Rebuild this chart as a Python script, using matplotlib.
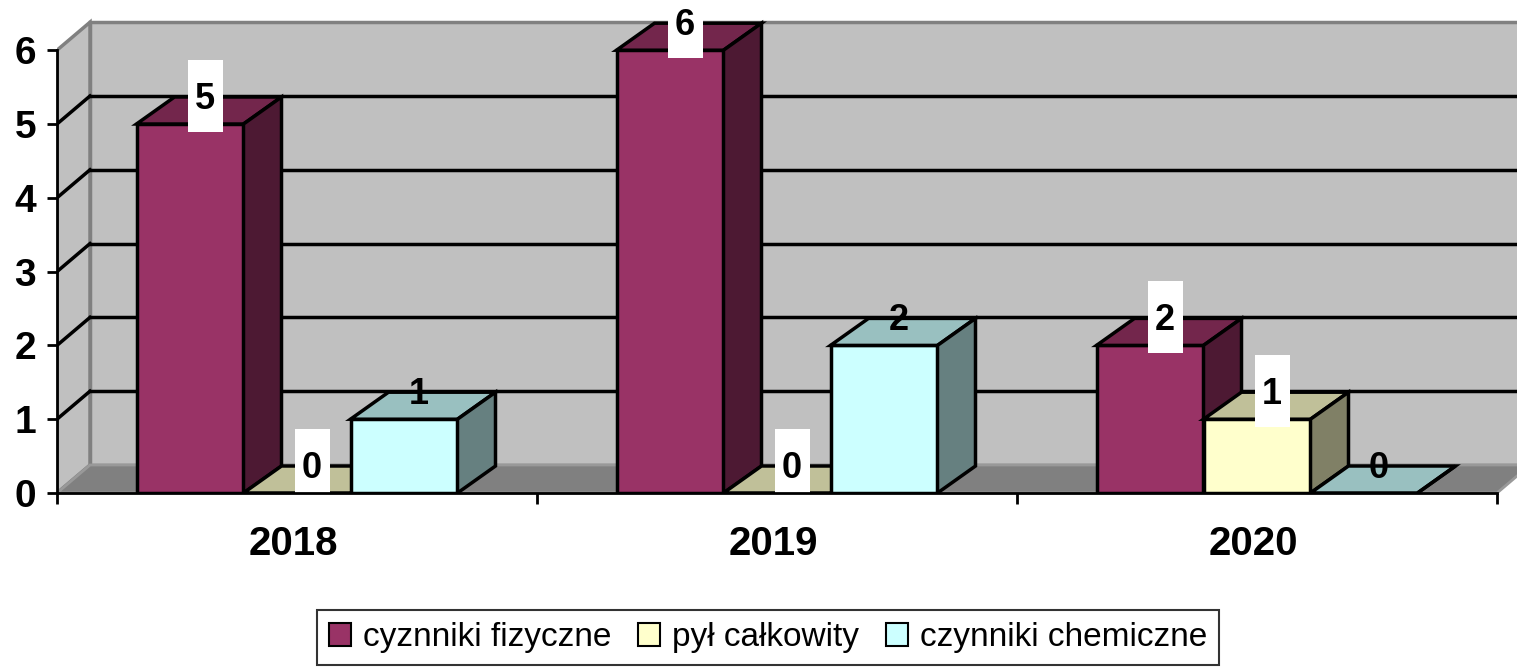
import matplotlib
matplotlib.use("Agg")
import matplotlib.pyplot as plt
from matplotlib.patches import Polygon, Rectangle, Patch

plt.rcParams['font.family'] = ['Liberation Sans', 'DejaVu Sans']

# data
years = ['2018', '2019', '2020']
series_names = ['cyznniki fizyczne', 'pył całkowity', 'czynniki chemiczne']
fizyczne = [5, 6, 2]
pyl = [0, 0, 1]
chemiczne = [1, 2, 0]
y_ticks = [0, 1, 2, 3, 4, 5, 6]

series = [fizyczne, pyl, chemiczne]
# front, top, side colours for each series
front_colors = ['#993366', '#ffffcc', '#ccffff']
top_colors = ['#73264c', '#c0c099', '#99c0c0']
side_colors = ['#4d1933', '#808066', '#668080']
label_box = [True, True, False]

# pixel scales of the reference
px_x = 480.0
px_y = 73.8
wall_dx, wall_dy = 33 / px_x, 28 / px_y
bar_dx, bar_dy = 38 / px_x, 27 / px_y
bar_w = 107 / px_x
ymax = max(y_ticks)
ncat = len(years)

fig = plt.figure(figsize=(15.17, 6.69), dpi=100)
ax = fig.add_axes([57 / 1517, (669 - 493) / 669, 1460 / 1517, 493 / 669])
ax.set_xlim(0, 1460 / px_x)
ax.set_ylim(0, 493 / px_y)

# walls and floor
ax.add_patch(Polygon([(wall_dx, wall_dy), (ncat + wall_dx, wall_dy),
                      (ncat + wall_dx, ymax + wall_dy), (wall_dx, ymax + wall_dy)],
                     fc='#c0c0c0', ec='#808080', lw=2.5, zorder=1))
ax.add_patch(Polygon([(0, 0), (wall_dx, wall_dy), (wall_dx, ymax + wall_dy), (0, ymax)],
                     fc='#c0c0c0', ec='#808080', lw=2.5, zorder=1))
ax.add_patch(Polygon([(0, 0), (ncat, 0), (ncat + wall_dx, wall_dy), (wall_dx, wall_dy)],
                     fc='#808080', ec='#999999', lw=2, zorder=1.5))

for t in y_ticks[1:-1]:
    ax.plot([wall_dx, ncat + wall_dx], [t + wall_dy, t + wall_dy], color='black', lw=2.5, zorder=2)
    ax.plot([0, wall_dx], [t, t + wall_dy], color='black', lw=2.5, zorder=2)

# 3d bars, drawn left to right so the next bar hides the previous side
z = 3.0
for j in range(ncat):
    for i, vals in enumerate(series):
        v = vals[j]
        x = j + 0.5 - 1.5 * bar_w + i * bar_w
        ax.add_patch(Rectangle((x, 0), bar_w, v, fc=front_colors[i], ec='black', lw=2.5, zorder=z))
        ax.add_patch(Polygon([(x, v), (x + bar_w, v), (x + bar_w + bar_dx, v + bar_dy), (x + bar_dx, v + bar_dy)],
                             fc=top_colors[i], ec='black', lw=2.5, zorder=z))
        ax.add_patch(Polygon([(x + bar_w, 0), (x + bar_w + bar_dx, bar_dy),
                              (x + bar_w + bar_dx, v + bar_dy), (x + bar_w, v)],
                             fc=side_colors[i], ec='black', lw=2.5, zorder=z))
        z += 0.01

# value labels
for j in range(ncat):
    for i, vals in enumerate(series):
        v = vals[j]
        xc = j + 0.5 - 1.5 * bar_w + (i + 0.5) * bar_w + 15 / px_x
        if label_box[i]:
            bw, bh = 35 / px_x, 72 / px_y
            yc = v + 28 / px_y
            ax.add_patch(Rectangle((xc - bw / 2, yc - bh / 2), bw, bh, fc='white', ec='none',
                                   zorder=10, clip_on=False))
        ax.text(xc, v + 15 / px_y, str(v), ha='center', va='baseline', fontsize=26,
                fontweight='bold', zorder=11)

# axes
for s in ['top', 'right']:
    ax.spines[s].set_visible(False)
ax.spines['left'].set_bounds(0, ymax)
ax.spines['bottom'].set_bounds(0, ncat)
for s in ['left', 'bottom']:
    ax.spines[s].set_linewidth(2)
    ax.spines[s].set_zorder(20)

ax.set_yticks(y_ticks)
ax.set_yticklabels([str(t) for t in y_ticks], fontsize=28, fontweight='bold')
ax.tick_params(axis='y', length=7, width=2, pad=8)
ax.set_xticks(range(ncat + 1))
ax.set_xticklabels([])
ax.tick_params(axis='x', length=8, width=2)

for j, yr in enumerate(years):
    ax.text(j + 0.5 - 4 / px_x, -62 / px_y, yr, ha='center', va='baseline', fontsize=29,
            fontweight='bold', clip_on=False)

handles = [Patch(fc=front_colors[i], ec='black', lw=1.5) for i in range(len(series))]
leg = fig.legend(handles, series_names, loc='center', bbox_to_anchor=(768 / 1517, 1 - 637.5 / 669),
                 ncol=3, fontsize=24, frameon=True, fancybox=False, handlelength=0.67,
                 handleheight=0.67, handletextpad=0.36, columnspacing=0.8, borderpad=0.35)
leg.get_frame().set_edgecolor('black')
leg.get_frame().set_linewidth(1.5)

fig.savefig('out.png', dpi=100)
